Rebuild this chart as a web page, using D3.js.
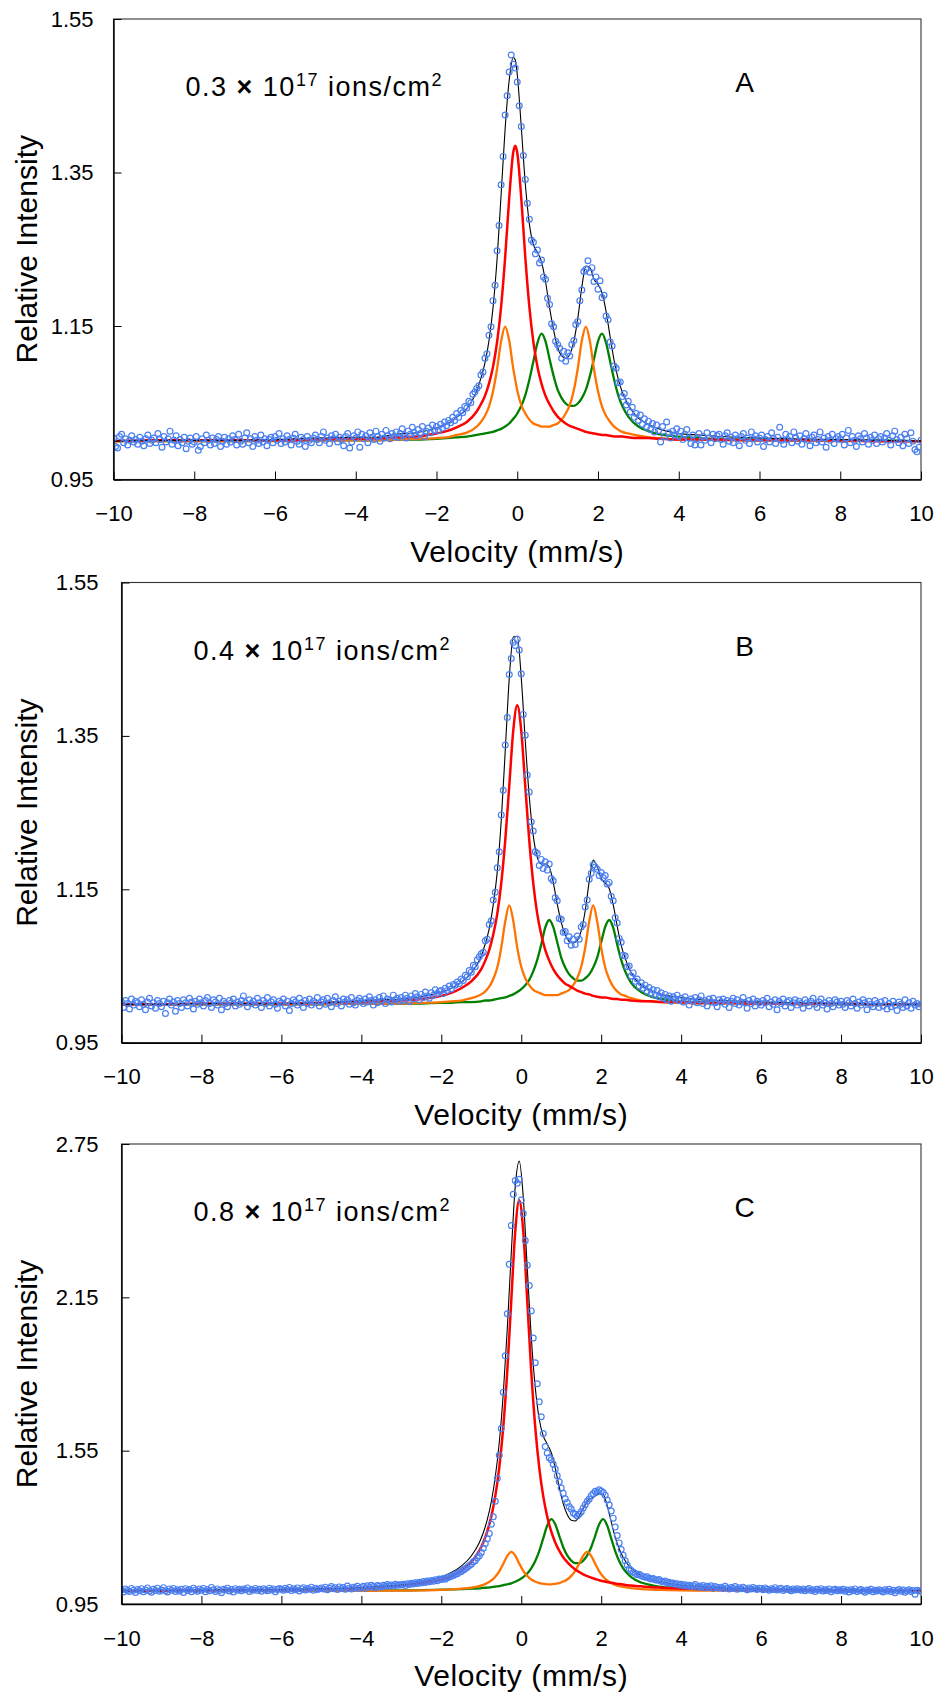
<!DOCTYPE html>
<html lang="en">
<head>
  <meta charset="utf-8">
  <title>Mossbauer spectra</title>
  <script src="https://d3js.org/d3.v7.min.js"></script>
  <style type="text/css">
    body { margin: 0; background: #fff; }
    svg text { font-family: "Liberation Sans", Arial, Helvetica, sans-serif; fill: #000; }
  </style>
</head>
<body>
<div id="chart"></div>
<script type="text/javascript">
const W = 940;
const H = 1699;

// ---- axis ticks / labels ----
const velTicks = [-10, -8, -6, -4, -2, 0, 2, 4, 6, 8, 10];
const yTicksAB = [0.95, 1.15, 1.35, 1.55];
const yTicksC = [0.95, 1.55, 2.15, 2.75];
const panelLetters = ["A", "B", "C"];
const fluence = ["0.3", "0.4", "0.8"];

// ---- velocity grids for the fitted sub-spectra (mm/s) ----
const gridA = [-10,-9,-8,-7,-6,-5,-4,-3.5,-3,-2.5,-2,-1.75,-1.5,-1.25,
  -1,-0.9,-0.8,-0.7,-0.6,-0.5,-0.4,-0.3,-0.2,-0.1,-0.05,0,
  0.1,0.2,0.3,0.4,0.5,0.6,0.7,0.8,0.9,1,1.1,1.2,1.3,1.4,1.5,1.6,1.7,1.8,1.9,2,2.1,2.2,2.3,2.4,2.5,2.6,
  2.75,3,3.25,3.5,4,4.5,5,6,7,8,9,10];
const gridB = [-10,-9,-8,-7,-6,-5,-4,-3.5,-3,-2.5,-2,-1.75,-1.5,-1.25,
  -1,-0.9,-0.8,-0.7,-0.6,-0.5,-0.4,-0.3,-0.2,-0.1,0,
  0.1,0.2,0.3,0.4,0.5,0.6,0.7,0.8,0.9,1,1.1,1.2,1.3,1.4,1.5,1.6,1.7,1.8,1.9,2,2.1,2.2,2.3,2.4,2.5,2.6,
  2.75,3,3.25,3.5,4,4.5,5,6,7,8,9,10];
const gridC = [-10,-9,-8,-7,-6,-5,-4,-3.5,-3,-2.5,-2,-1.75,-1.5,-1.25,
  -1.05,-0.95,-0.85,-0.75,-0.65,-0.55,-0.45,-0.35,-0.25,-0.15,-0.05,
  0.05,0.15,0.25,0.35,0.45,0.55,0.65,0.75,0.85,0.95,1.05,1.15,1.25,1.35,1.45,1.55,1.65,1.75,1.85,1.95,2.05,2.15,2.25,2.35,2.45,2.55,
  2.75,3,3.25,3.5,4,4.5,5,6,7,8,9,10];

// ---- sub-spectra (relative intensity), panel A ----
const redA = [1.000,1.001,1.001,1.001,1.001,1.002,1.003,1.003,1.005,1.006,1.010,1.013,1.018,1.025,
  1.039,1.048,1.059,1.075,1.097,1.129,1.175,1.239,1.316,1.376,1.385,1.376,
  1.316,1.239,1.175,1.129,1.097,1.075,1.059,1.048,1.039,1.032,1.027,1.023,1.020,1.018,1.016,1.014,1.012,1.011,1.010,1.009,1.008,1.008,1.007,1.006,1.006,1.006,
  1.005,1.004,1.004,1.003,1.002,1.002,1.002,1.001,1.001,1.001,1.000,1.000];
const orangeA = [1.000,1.000,1.000,1.000,1.000,1.001,1.001,1.001,1.002,1.003,1.004,1.005,1.008,1.011,
  1.019,1.025,1.033,1.045,1.065,1.094,1.130,1.149,1.131,1.095,1.080,1.066,
  1.047,1.036,1.028,1.023,1.021,1.019,1.019,1.019,1.021,1.023,1.028,1.036,1.047,1.066,1.095,1.131,1.149,1.130,1.094,1.065,1.045,1.033,1.025,1.019,1.015,1.012,
  1.010,1.007,1.005,1.004,1.002,1.002,1.001,1.001,1.001,1.000,1.000,1.000];
const greenA = [1.000,1.000,1.000,1.000,1.001,1.001,1.001,1.001,1.002,1.002,1.003,1.004,1.005,1.006,
  1.008,1.009,1.010,1.011,1.012,1.014,1.016,1.019,1.023,1.029,1.032,1.036,
  1.046,1.060,1.080,1.104,1.128,1.140,1.130,1.107,1.085,1.067,1.056,1.049,1.046,1.046,1.049,1.056,1.067,1.085,1.107,1.130,1.140,1.128,1.104,1.080,1.060,1.046,
  1.032,1.019,1.013,1.009,1.006,1.004,1.003,1.002,1.001,1.001,1.001,1.000];

// ---- panel B ----
const redB = [1.000,1.000,1.001,1.001,1.001,1.002,1.003,1.004,1.005,1.007,1.011,1.015,1.021,1.030,
  1.046,1.057,1.071,1.091,1.118,1.158,1.214,1.285,1.357,1.390,1.357,
  1.285,1.214,1.158,1.118,1.091,1.071,1.057,1.046,1.038,1.032,1.027,1.024,1.021,1.018,1.016,1.014,1.013,1.011,1.010,1.009,1.009,1.008,1.007,1.007,1.006,1.006,
  1.005,1.004,1.004,1.003,1.003,1.002,1.002,1.001,1.001,1.001,1.000,1.000];
const orangeB = [1.000,1.000,1.000,1.000,1.000,1.000,1.001,1.001,1.001,1.002,1.003,1.004,1.005,1.008,
  1.013,1.017,1.023,1.033,1.048,1.074,1.108,1.129,1.109,1.074,1.049,
  1.034,1.025,1.019,1.016,1.014,1.012,1.012,1.012,1.012,1.014,1.016,1.019,1.025,1.034,1.049,1.074,1.108,1.129,1.108,1.074,1.048,1.033,1.023,1.017,1.013,1.011,
  1.008,1.005,1.004,1.003,1.002,1.001,1.001,1.001,1.000,1.000,1.000,1.000];
const greenB = [1.000,1.000,1.000,1.000,1.000,1.000,1.001,1.001,1.001,1.001,1.002,1.002,1.003,1.003,
  1.004,1.005,1.005,1.006,1.007,1.008,1.009,1.011,1.013,1.016,1.020,
  1.025,1.032,1.043,1.058,1.078,1.100,1.110,1.101,1.081,1.061,1.048,1.039,1.034,1.031,1.031,1.034,1.039,1.048,1.061,1.081,1.101,1.110,1.100,1.078,1.058,1.043,
  1.028,1.016,1.010,1.007,1.004,1.003,1.002,1.001,1.001,1.000,1.000,1.000];

// ---- panel C ----
const redC = [1.002,1.002,1.003,1.004,1.005,1.007,1.011,1.015,1.020,1.029,1.045,1.059,1.080,1.114,
  1.159,1.191,1.234,1.292,1.372,1.484,1.642,1.860,2.137,2.408,2.530,
  2.408,2.137,1.860,1.642,1.484,1.372,1.292,1.234,1.191,1.159,1.133,1.114,1.098,1.085,1.075,1.066,1.059,1.053,1.048,1.043,1.039,1.036,1.033,1.030,1.028,1.026,
  1.022,1.019,1.016,1.014,1.011,1.009,1.007,1.005,1.004,1.003,1.002,1.002];
const orangeC = [1.000,1.000,1.000,1.000,1.001,1.001,1.001,1.002,1.002,1.003,1.005,1.007,1.010,1.014,
  1.020,1.025,1.032,1.042,1.057,1.078,1.107,1.138,1.154,1.139,1.108,
  1.080,1.060,1.046,1.038,1.032,1.029,1.027,1.027,1.029,1.032,1.038,1.046,1.060,1.080,1.108,1.139,1.154,1.138,1.107,1.078,1.057,1.042,1.032,1.025,1.020,1.017,
  1.012,1.008,1.006,1.005,1.003,1.002,1.002,1.001,1.001,1.000,1.000,1.000];
const greenC = [1.000,1.001,1.001,1.001,1.001,1.002,1.002,1.003,1.003,1.004,1.006,1.007,1.008,1.010,
  1.011,1.013,1.014,1.016,1.018,1.020,1.024,1.027,1.031,1.037,1.045,
  1.055,1.069,1.089,1.118,1.157,1.207,1.257,1.282,1.262,1.217,1.172,1.140,1.120,1.110,1.110,1.120,1.140,1.172,1.217,1.262,1.282,1.257,1.207,1.157,1.118,1.089,
  1.055,1.034,1.024,1.017,1.010,1.007,1.005,1.003,1.002,1.002,1.001,1.001];

// ---- measured spectra: 401 channels, -10 .. 10 mm/s ----
const chanStart = -10;
const chanStep = 0.05;
const countsA = [
  1.004,0.993,0.991,1.006,1.009,0.998,1.003,0.995,1.001,1.007,0.999,1.002,0.996,1.005,1.000,0.994,1.003,1.008,0.997,1.001,
  1.004,0.998,1.010,1.002,0.992,1.006,0.999,1.003,1.013,0.996,1.001,1.007,0.994,1.002,0.998,1.005,0.990,1.000,1.004,0.996,
  0.999,1.006,0.988,0.993,1.003,0.998,1.008,1.001,0.995,1.004,0.997,1.002,1.006,0.993,1.000,1.005,0.996,1.003,0.999,1.007,
  1.002,0.995,1.009,1.000,0.996,1.004,1.011,0.998,1.003,0.993,1.006,1.001,0.997,1.008,0.999,1.003,0.994,1.002,1.005,0.998,
  1.006,1.001,1.010,0.997,1.003,0.999,1.007,1.002,0.995,1.004,1.009,1.000,0.996,1.005,1.002,0.993,1.006,1.001,0.998,1.004,
  1.008,1.002,0.998,1.006,1.012,1.001,1.004,0.997,1.007,1.003,1.009,0.999,1.005,1.002,0.994,1.006,1.010,0.991,0.999,1.007,
  1.004,1.012,0.992,1.009,1.003,1.007,0.998,1.011,1.005,1.002,1.013,1.006,1.000,1.009,1.004,1.014,1.007,1.003,1.010,1.006,
  1.012,1.005,1.010,1.016,1.008,1.004,1.013,1.009,1.018,1.011,1.007,1.015,1.010,1.019,1.006,1.013,1.017,1.011,1.021,1.014,
  1.019,1.014,1.022,1.017,1.025,1.020,1.027,1.024,1.031,1.027,1.036,1.031,1.040,1.037,1.045,1.043,1.052,1.050,1.061,1.064,
  1.069,1.072,1.086,1.090,1.108,1.114,1.138,1.149,1.183,1.203,1.248,1.281,1.334,1.371,1.425,1.450,1.481,1.503,1.491,1.486,
  1.468,1.437,1.410,1.372,1.341,1.310,1.289,1.262,1.259,1.244,1.249,1.232,1.236,1.214,1.211,1.186,1.178,1.153,1.149,1.130,
  1.126,1.121,1.108,1.117,1.104,1.115,1.111,1.126,1.131,1.152,1.156,1.183,1.197,1.221,1.224,1.235,1.220,1.226,1.208,1.214,
  1.198,1.209,1.187,1.190,1.163,1.158,1.129,1.124,1.098,1.095,1.076,1.077,1.058,1.062,1.047,1.052,1.038,1.044,1.031,1.036,
  1.027,1.034,1.022,1.029,1.018,1.026,1.015,1.023,1.012,1.021,1.014,0.999,1.019,1.006,1.025,1.011,1.004,1.013,1.008,1.016,
  1.006,1.013,1.002,1.009,1.015,1.004,0.997,1.008,0.995,1.003,1.010,0.995,1.006,1.001,1.011,1.004,0.998,1.009,1.003,1.007,
  1.009,1.002,0.996,1.007,1.011,1.000,1.005,0.998,1.008,1.003,0.994,1.006,1.010,1.001,1.004,0.997,1.012,1.003,1.007,0.999,
  1.004,1.008,0.993,1.002,1.006,0.999,1.011,1.003,0.997,1.005,1.018,1.001,0.996,1.009,1.002,1.006,0.998,1.012,1.004,1.000,
  1.007,0.996,1.003,1.010,1.001,0.994,1.005,1.008,0.998,1.002,1.012,0.999,1.004,0.992,1.006,1.001,1.009,0.997,1.003,1.006,
  1.002,1.009,0.995,1.004,1.014,0.998,1.006,1.001,0.993,1.007,1.003,0.999,1.010,1.004,0.996,1.005,1.001,1.008,0.997,1.003,
  1.006,0.999,1.004,1.010,1.001,0.995,1.007,1.013,1.002,0.998,1.005,0.994,1.009,1.003,0.997,1.011,1.000,0.989,0.986,0.992,
  1.001];
const countsB = [
  1.003,0.996,1.005,1.001,0.994,1.007,0.999,1.004,1.002,0.997,1.006,1.000,0.993,1.003,1.008,0.998,1.002,0.995,1.005,1.001,
  0.997,1.004,0.988,1.002,1.007,0.999,1.003,0.991,1.005,1.001,0.996,1.006,1.002,0.998,1.008,1.003,0.994,1.004,1.000,1.007,
  1.002,0.998,1.005,1.009,1.001,0.996,1.006,1.003,0.999,1.008,0.993,1.004,1.001,0.997,1.005,1.002,1.007,0.998,1.003,1.000,
  1.005,1.011,1.002,0.997,1.006,1.001,1.004,0.999,1.008,1.002,0.996,1.005,1.001,1.009,0.998,1.003,1.006,1.000,0.995,1.004,
  1.002,1.007,0.998,1.004,0.992,1.001,1.006,1.003,0.999,1.008,1.002,0.996,1.005,1.001,1.007,0.999,1.004,1.002,1.009,0.998,
  1.003,1.006,1.000,1.008,1.002,0.997,1.005,1.010,1.001,1.004,0.998,1.007,1.003,1.006,1.000,1.009,1.002,0.999,1.005,1.008,
  1.004,1.001,1.007,1.003,1.010,1.005,0.999,1.006,1.002,1.009,1.004,1.011,1.001,1.007,1.005,1.003,1.012,1.006,1.008,1.004,
  1.009,1.005,1.012,1.008,1.004,1.011,1.007,1.014,1.010,1.006,1.013,1.009,1.016,1.011,1.008,1.015,1.012,1.019,1.014,1.017,
  1.018,1.014,1.021,1.018,1.024,1.020,1.026,1.025,1.029,1.027,1.033,1.031,1.038,1.036,1.044,1.042,1.051,1.049,1.058,1.062,
  1.066,1.068,1.083,1.085,1.104,1.109,1.136,1.146,1.178,1.199,1.247,1.279,1.338,1.374,1.430,1.451,1.472,1.468,1.476,1.462,
  1.431,1.378,1.351,1.299,1.277,1.238,1.226,1.199,1.197,1.181,1.189,1.177,1.186,1.175,1.183,1.164,1.161,1.139,1.135,1.112,
  1.111,1.094,1.095,1.083,1.088,1.077,1.085,1.078,1.089,1.085,1.101,1.104,1.127,1.136,1.163,1.171,1.182,1.179,1.176,1.168,
  1.172,1.165,1.168,1.157,1.159,1.141,1.135,1.113,1.106,1.086,1.081,1.064,1.063,1.049,1.050,1.037,1.041,1.030,1.033,1.024,
  1.028,1.021,1.025,1.017,1.022,1.014,1.019,1.012,1.018,1.010,1.015,1.008,1.013,1.006,1.011,1.004,1.010,1.007,1.012,1.005,
  1.008,1.003,1.010,1.005,0.999,1.007,1.004,1.009,1.002,1.006,1.011,1.001,1.005,0.998,1.007,1.003,1.008,1.002,0.997,1.006,
  1.003,1.007,1.000,1.005,0.996,1.004,1.008,1.001,1.006,0.999,1.003,1.009,1.002,0.995,1.005,1.001,1.007,0.998,1.004,1.002,
  0.999,1.005,1.002,1.008,0.997,1.003,1.000,1.006,0.993,1.004,1.001,1.007,0.998,1.003,1.005,0.996,1.002,1.006,0.999,1.004,
  1.001,0.995,1.006,1.002,0.998,1.004,1.008,1.000,0.996,1.003,1.007,0.999,1.002,0.994,1.005,1.001,0.997,1.006,1.003,0.999,
  1.004,1.000,0.996,1.005,1.002,0.998,1.007,1.001,0.995,1.003,0.999,1.006,1.002,0.993,1.004,1.000,0.997,1.005,1.001,0.996,
  1.003,0.998,1.005,0.994,1.001,0.997,1.004,0.999,0.992,1.003,1.000,0.996,1.006,0.998,1.002,0.995,1.004,0.999,1.001,0.997,
  1.000];
const countsC = [
  1.006,0.997,1.009,1.003,0.999,1.011,1.004,0.995,1.007,1.002,1.010,0.998,1.005,1.013,1.001,0.996,1.008,1.003,1.012,1.000,
  1.005,1.014,1.002,0.997,1.009,1.004,1.011,0.999,1.006,1.001,1.008,0.995,1.010,1.003,1.007,0.998,1.012,1.005,1.000,1.009,
  1.004,1.011,0.998,1.007,1.002,1.015,1.006,0.999,1.009,1.003,0.994,1.008,1.005,1.012,1.001,1.007,0.997,1.010,1.004,1.008,
  1.002,1.009,1.006,1.013,0.999,1.007,1.004,1.011,1.003,1.008,1.000,1.010,1.006,1.002,1.012,1.005,1.009,0.998,1.007,1.011,
  1.008,1.004,1.012,1.007,1.015,1.003,1.010,1.006,1.013,1.001,1.009,1.014,1.005,1.011,1.008,1.016,1.004,1.012,1.007,1.010,
  1.013,1.009,1.016,1.006,1.012,1.018,1.010,1.014,1.007,1.017,1.011,1.015,1.008,1.020,1.012,1.009,1.016,1.013,1.019,1.011,
  1.015,1.019,1.012,1.021,1.016,1.023,1.018,1.014,1.022,1.020,1.017,1.023,1.019,1.026,1.021,1.024,1.020,1.027,1.023,1.025,
  1.024,1.027,1.022,1.029,1.026,1.031,1.028,1.033,1.030,1.035,1.032,1.038,1.034,1.040,1.037,1.042,1.039,1.045,1.041,1.048,
  1.046,1.050,1.047,1.053,1.056,1.059,1.062,1.066,1.068,1.074,1.077,1.083,1.088,1.094,1.101,1.106,1.115,1.119,1.131,1.139,
  1.152,1.168,1.187,1.205,1.226,1.262,1.291,1.352,1.441,1.532,1.637,1.779,1.921,2.086,2.279,2.431,2.553,2.607,2.596,2.612,
  2.531,2.478,2.372,2.276,2.196,2.097,1.991,1.894,1.812,1.741,1.683,1.617,1.566,1.541,1.522,1.514,1.497,1.478,1.452,1.428,
  1.404,1.383,1.362,1.347,1.331,1.322,1.306,1.301,1.294,1.302,1.311,1.326,1.338,1.352,1.361,1.374,1.382,1.391,1.388,1.397,
  1.392,1.386,1.376,1.357,1.338,1.314,1.286,1.251,1.218,1.189,1.163,1.141,1.119,1.103,1.088,1.081,1.074,1.070,1.064,1.066,
  1.061,1.058,1.055,1.057,1.051,1.048,1.050,1.045,1.043,1.046,1.039,1.036,1.040,1.033,1.035,1.030,1.032,1.027,1.029,1.024,
  1.027,1.022,1.025,1.019,1.023,1.018,1.021,1.026,1.016,1.020,1.017,1.022,1.014,1.019,1.016,1.021,1.012,1.018,1.015,1.013,
  1.016,1.011,1.019,1.013,1.009,1.015,1.012,1.018,1.008,1.014,1.010,1.016,1.011,1.006,1.013,1.009,1.015,1.010,1.007,1.012,
  1.011,1.006,1.013,1.008,1.004,1.010,1.007,1.014,1.005,1.009,1.012,1.003,1.008,1.011,1.006,1.002,1.009,1.005,1.010,1.007,
  1.004,1.009,1.002,1.007,1.011,1.003,1.006,0.999,1.008,1.004,1.010,1.001,1.006,1.003,1.009,0.998,1.005,1.008,1.002,1.006,
  1.003,1.008,1.000,1.005,0.997,1.006,1.002,1.009,0.999,1.004,1.007,1.001,0.996,1.005,1.002,1.008,0.998,1.004,1.001,1.006,
  1.002,0.997,1.006,1.001,1.008,0.999,1.004,0.994,1.003,1.007,1.000,1.005,0.996,1.002,1.006,0.999,1.003,0.988,1.004,1.001,
  1.002];

// ---- layout ----
const panels = [
  { grid: gridA, red: redA, orange: orangeA, green: greenA, counts: countsA,
    yDomain: [0.95, 1.55], yTicks: yTicksAB, left: 113.5, right: 921, top: 19, bottom: 479.5, gap: 20 },
  { grid: gridB, red: redB, orange: orangeB, green: greenB, counts: countsB,
    yDomain: [0.95, 1.55], yTicks: yTicksAB, left: 121.5, right: 921, top: 582.5, bottom: 1042.7, gap: 23 },
  { grid: gridC, red: redC, orange: orangeC, green: greenC, counts: countsC,
    yDomain: [0.95, 2.75], yTicks: yTicksC, left: 121.5, right: 921, top: 1144, bottom: 1604, gap: 23 }
];

const colors = { data: "#4a7ff2", red: "#ff0000", orange: "#ff7300", green: "#008000", fit: "#000" };

const svg = d3.select("#chart")
  .append("svg")
  .attr("width", W)
  .attr("height", H);

svg.append("rect").attr("width", W).attr("height", H).attr("fill", "#fff");

panels.forEach((p, k) => {
  const x = d3.scaleLinear().domain([-10, 10]).range([p.left, p.right]);
  const y = d3.scaleLinear().domain(p.yDomain).range([p.bottom, p.top]);
  const g = svg.append("g");

  g.append("clipPath").attr("id", "clip" + k)
    .append("rect")
    .attr("x", p.left).attr("y", p.top)
    .attr("width", p.right - p.left).attr("height", p.bottom - p.top);

  // frame
  g.append("rect")
    .attr("x", p.left).attr("y", p.top)
    .attr("width", p.right - p.left).attr("height", p.bottom - p.top)
    .attr("fill", "none").attr("stroke", "#333").attr("stroke-width", 1.1);

  // fit envelope = baseline + the three sub-spectra
  const rows = p.grid.map((v, i) => ({
    v: v,
    red: p.red[i],
    orange: p.orange[i],
    green: p.green[i],
    fit: 1 + (p.red[i] - 1) + (p.orange[i] - 1) + (p.green[i] - 1)
  }));

  const plot = g.append("g").attr("clip-path", "url(#clip" + k + ")");

  const lineFor = key => d3.line()
    .x(d => x(d.v))
    .y(d => y(d[key]))
    .curve(d3.curveMonotoneX);

  [["green", 2.3], ["orange", 2.3], ["red", 2.5], ["fit", 1.1]].forEach(([key, w]) => {
    plot.append("path")
      .datum(rows)
      .attr("fill", "none")
      .attr("stroke", colors[key])
      .attr("stroke-width", w)
      .attr("stroke-linejoin", "round")
      .attr("d", lineFor(key));
  });

  plot.selectAll("circle.pt")
    .data(p.counts)
    .enter()
    .append("circle")
    .attr("class", "pt")
    .attr("cx", (d, i) => x(chanStart + i * chanStep))
    .attr("cy", d => y(d))
    .attr("r", 2.9)
    .attr("fill", "none")
    .attr("stroke", colors.data)
    .attr("stroke-width", 1.2);

  // axes, ticks point inward
  const bottomAxis = d3.axisBottom(x)
    .tickValues(velTicks)
    .tickSizeInner(-8)
    .tickSizeOuter(0)
    .tickPadding(26);
  const xg = g.append("g")
    .attr("transform", "translate(0," + p.bottom + ")")
    .call(bottomAxis);

  const leftAxis = d3.axisLeft(y)
    .tickValues(p.yTicks)
    .tickSizeInner(-8)
    .tickSizeOuter(0)
    .tickPadding(p.gap)
    .tickFormat(d3.format(".2f"));
  const yg = g.append("g")
    .attr("transform", "translate(" + p.left + ",0)")
    .call(leftAxis);

  [xg, yg].forEach(ax => {
    ax.attr("font-size", null).attr("font-family", null);
    ax.select(".domain").attr("stroke", "#000").attr("stroke-width", 1.4);
    ax.selectAll(".tick line").attr("stroke", "#000").attr("stroke-width", 1);
    ax.selectAll(".tick text").style("font-size", "22px").attr("fill", "#000");
  });

  // axis titles
  g.append("text")
    .attr("x", (p.left + p.right) / 2)
    .attr("y", p.bottom + 82)
    .style("text-anchor", "middle")
    .style("font-size", "30px")
    .style("letter-spacing", "0.6px")
    .text("Velocity (mm/s)");

  g.append("text")
    .attr("transform", "translate(37," + ((p.top + p.bottom) / 2) + ") rotate(-90)")
    .style("text-anchor", "middle")
    .style("font-size", "30px")
    .text("Relative Intensity");

  // fluence note
  const note = g.append("text")
    .attr("x", p.left + 72)
    .attr("y", p.top + 77)
    .style("font-size", "27px")
    .style("letter-spacing", "1.5px");
  note.append("tspan").text(fluence[k] + " ");
  note.append("tspan").style("font-weight", "bold").text("\u00d7");
  note.append("tspan").text(" 10");
  note.append("tspan").attr("dy", -10).style("font-size", "18px").text("17");
  note.append("tspan").attr("dy", 10).text(" ions/cm");
  note.append("tspan").attr("dy", -10).style("font-size", "18px").text("2");

  g.append("text")
    .attr("x", 744.5)
    .attr("y", p.top + 73)
    .style("text-anchor", "middle")
    .style("font-size", "28px")
    .text(panelLetters[k]);
});
</script>
</body>
</html>
